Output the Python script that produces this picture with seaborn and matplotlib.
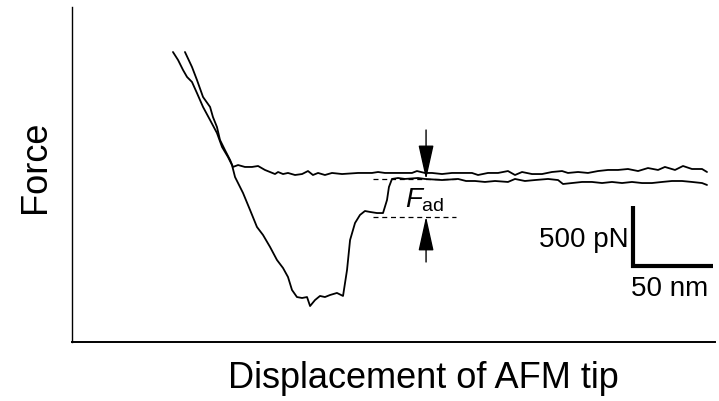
import numpy as np
import pandas as pd
import matplotlib
matplotlib.use("Agg")
import matplotlib.pyplot as plt
import seaborn as sns

# Displacement (nm) and force (pN), zero force at the approach baseline
approach_x = [70.6, 75.0, 78.1, 81.9, 86.3, 88.1, 90.6, 92.5, 95.6, 98.8, 100.6,
              103.8, 108.1, 112.5, 116.3, 120.6, 126.9, 128.8, 131.9, 135.0, 139.4,
              143.8, 147.5, 150.6, 153.8, 158.1, 162.5, 168.8, 178.8, 187.5, 191.3,
              195.6, 200.0, 206.3, 212.5, 215.6, 220.6, 225.0, 231.3, 237.5, 245.6,
              250.0, 253.8, 260.0, 266.3, 272.5, 276.9, 281.3, 287.5, 293.8, 300.0,
              306.3, 310.0, 316.3, 322.5, 328.8, 335.0, 341.3, 347.5, 353.8, 360.0,
              366.3, 370.6, 376.9, 381.9, 387.5, 393.8, 396.9]
approach_f = [1000, 875, 767, 625, 542, 458, 375, 267, 183, 100, 42,
              58, 42, 42, 50, 17, -17, 0, -17, -8, -25,
              -17, 8, -25, -8, -25, -8, -17, -8, -8, 0,
              -8, -8, -8, -8, 8, -8, -8, -17, -8, -8,
              -8, -25, -8, -8, 8, -25, 0, -17, -17, 0,
              8, -8, 0, -8, 8, 17, 17, 25, 8, 33,
              17, 42, 17, 50, 25, 25, 0]

retract_x = [63.1, 66.3, 69.4, 71.9, 75.0, 78.1, 81.9, 86.3, 90.6, 93.8, 97.5,
             100.0, 101.9, 106.9, 111.3, 115.6, 119.4, 123.8, 128.1, 131.9, 135.0,
             137.5, 140.6, 143.8, 146.9, 148.8, 151.9, 155.0, 158.1, 161.3, 165.6,
             169.4, 171.9, 173.8, 176.9, 180.0, 183.1, 186.3, 190.6, 194.4, 196.9,
             198.1, 200.0, 203.8, 208.1, 216.3, 220.6, 231.3, 241.3, 246.3, 251.9,
             258.1, 264.4, 272.5, 276.9, 283.1, 289.4, 297.5, 303.8, 306.9, 312.5,
             318.8, 325.0, 331.3, 337.5, 343.8, 350.0, 356.3, 362.5, 368.8, 375.0,
             381.3, 387.5, 393.8, 396.9]
retract_f = [1000, 933, 850, 792, 750, 658, 542, 433, 325, 208, 125,
             58, -42, -175, -317, -458, -525, -625, -733, -800, -875,
             -983, -1042, -1050, -1042, -1117, -1067, -1033, -1042, -1025, -1008,
             -1033, -817, -567, -425, -358, -325, -333, -342, -342, -233,
             -125, -58, -50, -58, -50, -58, -67, -58, -75, -75,
             -83, -75, -83, -58, -75, -67, -58, -67, -100, -92,
             -83, -83, -92, -83, -92, -83, -92, -92, -83, -75,
             -75, -83, -92, -108]

# adhesion: retract baseline and the last rupture plateau
adhesion_levels = [-62, -371]
adhesion_span = [188.1, 240.0]
arrow_x = 221.3

# scale bar
bar_nm = 50
bar_pn = 500
bar_origin = (350.6, -783)

sns.set_theme(style="white")
plt.rcParams["font.family"] = ["Liberation Sans", "DejaVu Sans"]
plt.rcParams["mathtext.fontset"] = "custom"
plt.rcParams["mathtext.rm"] = "Liberation Sans"
plt.rcParams["mathtext.it"] = "Liberation Sans:italic"
plt.rcParams["text.color"] = "black"

fig = plt.figure(figsize=(7.19, 4.01), dpi=100)
ax = fig.add_axes([72 / 719, 59 / 401, 643 / 719, 335 / 401])

curves = pd.concat([
    pd.DataFrame({"x": approach_x, "f": approach_f, "curve": "approach"}),
    pd.DataFrame({"x": retract_x, "f": retract_f, "curve": "retract"}),
])
for name, d in curves.groupby("curve"):
    sns.lineplot(data=d, x="x", y="f", sort=False, estimator=None,
                 color="black", lw=1.3, ax=ax)

# dashed adhesion levels
for lev in adhesion_levels:
    ax.plot(adhesion_span, [lev, lev], color="black", lw=0.9, ls=(0, (4, 3)))

# arrows pointing at the two levels
arrow_style = "-|>,head_length=1.8,head_width=0.4"
ax.annotate("", xy=(arrow_x, adhesion_levels[0]), xytext=(arrow_x, 350),
            arrowprops=dict(arrowstyle=arrow_style, color="black", lw=1,
                            shrinkA=0, shrinkB=0))
ax.annotate("", xy=(arrow_x, adhesion_levels[1]), xytext=(arrow_x, -750),
            arrowprops=dict(arrowstyle=arrow_style, color="black", lw=1,
                            shrinkA=0, shrinkB=0))
ax.text(208.1, -292, r"$F_{\mathrm{ad}}$", fontsize=20, ha="left",
        va="baseline", color="black")

# scale bar
bx, by = bar_origin
ax.plot([bx, bx, bx + bar_nm], [by + bar_pn, by, by], color="black", lw=3,
        solid_joinstyle="miter", solid_capstyle="butt")
ax.text(bx - 3, by + bar_pn * 0.43, "500 pN", fontsize=20, ha="right",
        va="center", color="black")
ax.text(bx - 1, by - 192, "50 nm", fontsize=20, ha="left", va="center",
        color="black")

ax.set_xlim(0, 401.9)
ax.set_ylim(-1416.7, 1375)
ax.set_xticks([])
ax.set_yticks([])
ax.set_xlabel("")
ax.set_ylabel("")
for side in ["top", "right"]:
    ax.spines[side].set_visible(False)
ax.spines["left"].set_linewidth(1.0)
ax.spines["bottom"].set_linewidth(1.4)
ax.spines["left"].set_color("black")
ax.spines["bottom"].set_color("black")

fig.text(423 / 719, 1 - 378 / 401, "Displacement of AFM tip", fontsize=26,
         ha="center", va="center", color="black")
fig.text(36 / 719, 1 - 167 / 401, "Force", fontsize=26, rotation=90,
         ha="center", va="center", color="black")

fig.savefig("out.png", dpi=100)
